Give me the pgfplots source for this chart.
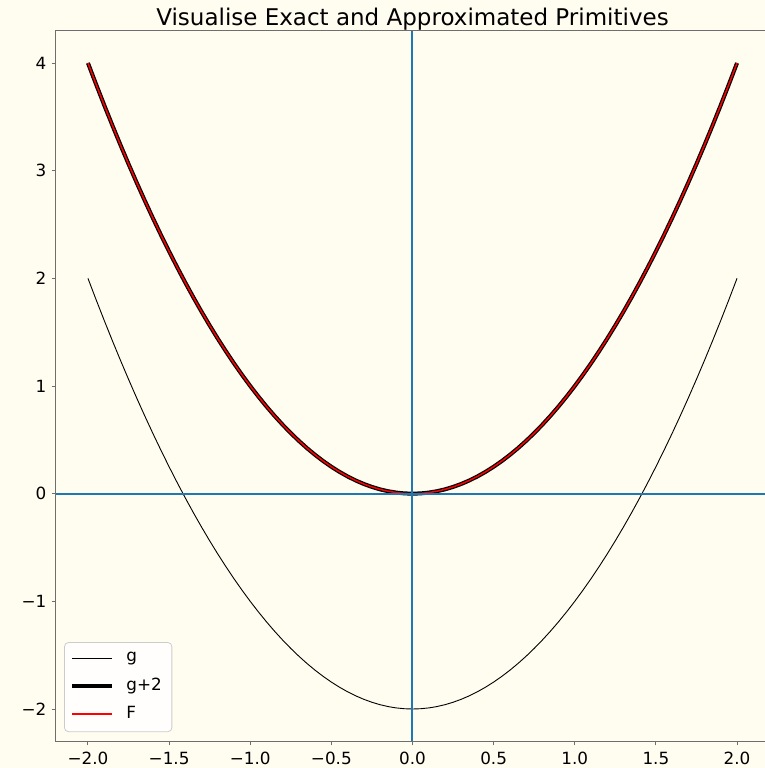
\documentclass[border=0pt]{standalone}
\usepackage{pgfplots}
\usepackage{pgfplotstable}
\pgfplotsset{compat=1.18}
\usepackage{fontspec}
\setmainfont{DejaVu Sans}
\definecolor{bgc}{RGB}{255,252,240}
\definecolor{spc}{RGB}{110,110,110}
\definecolor{tabblue}{HTML}{1F77B4}
\pgfplotstableread{
x g h
-2.00 2.0000 4.0000
-1.95 1.8025 3.8025
-1.90 1.6100 3.6100
-1.85 1.4225 3.4225
-1.80 1.2400 3.2400
-1.75 1.0625 3.0625
-1.70 0.8900 2.8900
-1.65 0.7225 2.7225
-1.60 0.5600 2.5600
-1.55 0.4025 2.4025
-1.50 0.2500 2.2500
-1.45 0.1025 2.1025
-1.40 -0.0400 1.9600
-1.35 -0.1775 1.8225
-1.30 -0.3100 1.6900
-1.25 -0.4375 1.5625
-1.20 -0.5600 1.4400
-1.15 -0.6775 1.3225
-1.10 -0.7900 1.2100
-1.05 -0.8975 1.1025
-1.00 -1.0000 1.0000
-0.95 -1.0975 0.9025
-0.90 -1.1900 0.8100
-0.85 -1.2775 0.7225
-0.80 -1.3600 0.6400
-0.75 -1.4375 0.5625
-0.70 -1.5100 0.4900
-0.65 -1.5775 0.4225
-0.60 -1.6400 0.3600
-0.55 -1.6975 0.3025
-0.50 -1.7500 0.2500
-0.45 -1.7975 0.2025
-0.40 -1.8400 0.1600
-0.35 -1.8775 0.1225
-0.30 -1.9100 0.0900
-0.25 -1.9375 0.0625
-0.20 -1.9600 0.0400
-0.15 -1.9775 0.0225
-0.10 -1.9900 0.0100
-0.05 -1.9975 0.0025
0.00 -2.0000 0.0000
0.05 -1.9975 0.0025
0.10 -1.9900 0.0100
0.15 -1.9775 0.0225
0.20 -1.9600 0.0400
0.25 -1.9375 0.0625
0.30 -1.9100 0.0900
0.35 -1.8775 0.1225
0.40 -1.8400 0.1600
0.45 -1.7975 0.2025
0.50 -1.7500 0.2500
0.55 -1.6975 0.3025
0.60 -1.6400 0.3600
0.65 -1.5775 0.4225
0.70 -1.5100 0.4900
0.75 -1.4375 0.5625
0.80 -1.3600 0.6400
0.85 -1.2775 0.7225
0.90 -1.1900 0.8100
0.95 -1.0975 0.9025
1.00 -1.0000 1.0000
1.05 -0.8975 1.1025
1.10 -0.7900 1.2100
1.15 -0.6775 1.3225
1.20 -0.5600 1.4400
1.25 -0.4375 1.5625
1.30 -0.3100 1.6900
1.35 -0.1775 1.8225
1.40 -0.0400 1.9600
1.45 0.1025 2.1025
1.50 0.2500 2.2500
1.55 0.4025 2.4025
1.60 0.5600 2.5600
1.65 0.7225 2.7225
1.70 0.8900 2.8900
1.75 1.0625 3.0625
1.80 1.2400 3.2400
1.85 1.4225 3.4225
1.90 1.6100 3.6100
1.95 1.8025 3.8025
2.00 2.0000 4.0000
}\data
\begin{document}
\begin{tikzpicture}
\fill[bgc] (0,0) rectangle (382.5pt,384pt);
\begin{axis}[
  at={(27.75pt,13.35pt)}, anchor=south west,
  scale only axis, width=357pt, height=355.3pt,
  xmin=-2.2, xmax=2.2, ymin=-2.3, ymax=4.3,
  axis line style={spc, line width=0.6pt},
  tick style={spc, line width=0.5pt},
  tick align=outside, major tick length=2pt,
  xtick={-2,-1.5,-1,-0.5,0,0.5,1,1.5,2},
  xticklabels={−2.0,−1.5,−1.0,−0.5,0.0,0.5,1.0,1.5,2.0},
  ytick={-2,-1,0,1,2,3,4},
  yticklabels={−2,−1,0,1,2,3,4},
  xtick pos=bottom, ytick pos=left,
  ticklabel style={font=\fontsize{8.4pt}{10pt}\selectfont, black},
  yticklabel style={xshift=1pt},
  every axis title shift=0pt,
  title={Visualise Exact and Approximated Primitives},
  title style={font=\fontsize{11.5pt}{13pt}\selectfont, at={(0.5,1)}, anchor=base, yshift=2.7pt},
  legend style={at={(0.012,0.013)}, anchor=south west, fill=white, fill opacity=0.8, text opacity=1,
    draw={rgb,255:red,204;green,204;blue,204}, rounded corners=2pt,
    font=\fontsize{8.4pt}{10pt}\selectfont, inner xsep=3pt, inner ysep=3pt, row sep=2.5pt},
  legend cell align=left,
  legend image code/.code={\draw[#1] (0pt,0pt) -- (20pt,0pt); \path (24pt,0pt);},
]
\addplot[black, line width=0.45pt] table[x=x,y=g] {\data};
\addlegendentry{g}
\addplot[black, line width=2pt] table[x=x,y=h] {\data};
\addlegendentry{g+2}
\addplot[red, line width=0.75pt] table[x=x,y=h] {\data};
\addlegendentry{F}
\draw[tabblue, line width=1pt] (axis cs:0,-2.3) -- (axis cs:0,4.3);
\draw[tabblue, line width=1pt] (axis cs:-2.2,0) -- (axis cs:2.2,0);
\end{axis}
\pgfresetboundingbox
\useasboundingbox (0,0) rectangle (382.5pt,384pt);
\end{tikzpicture}
\end{document}
